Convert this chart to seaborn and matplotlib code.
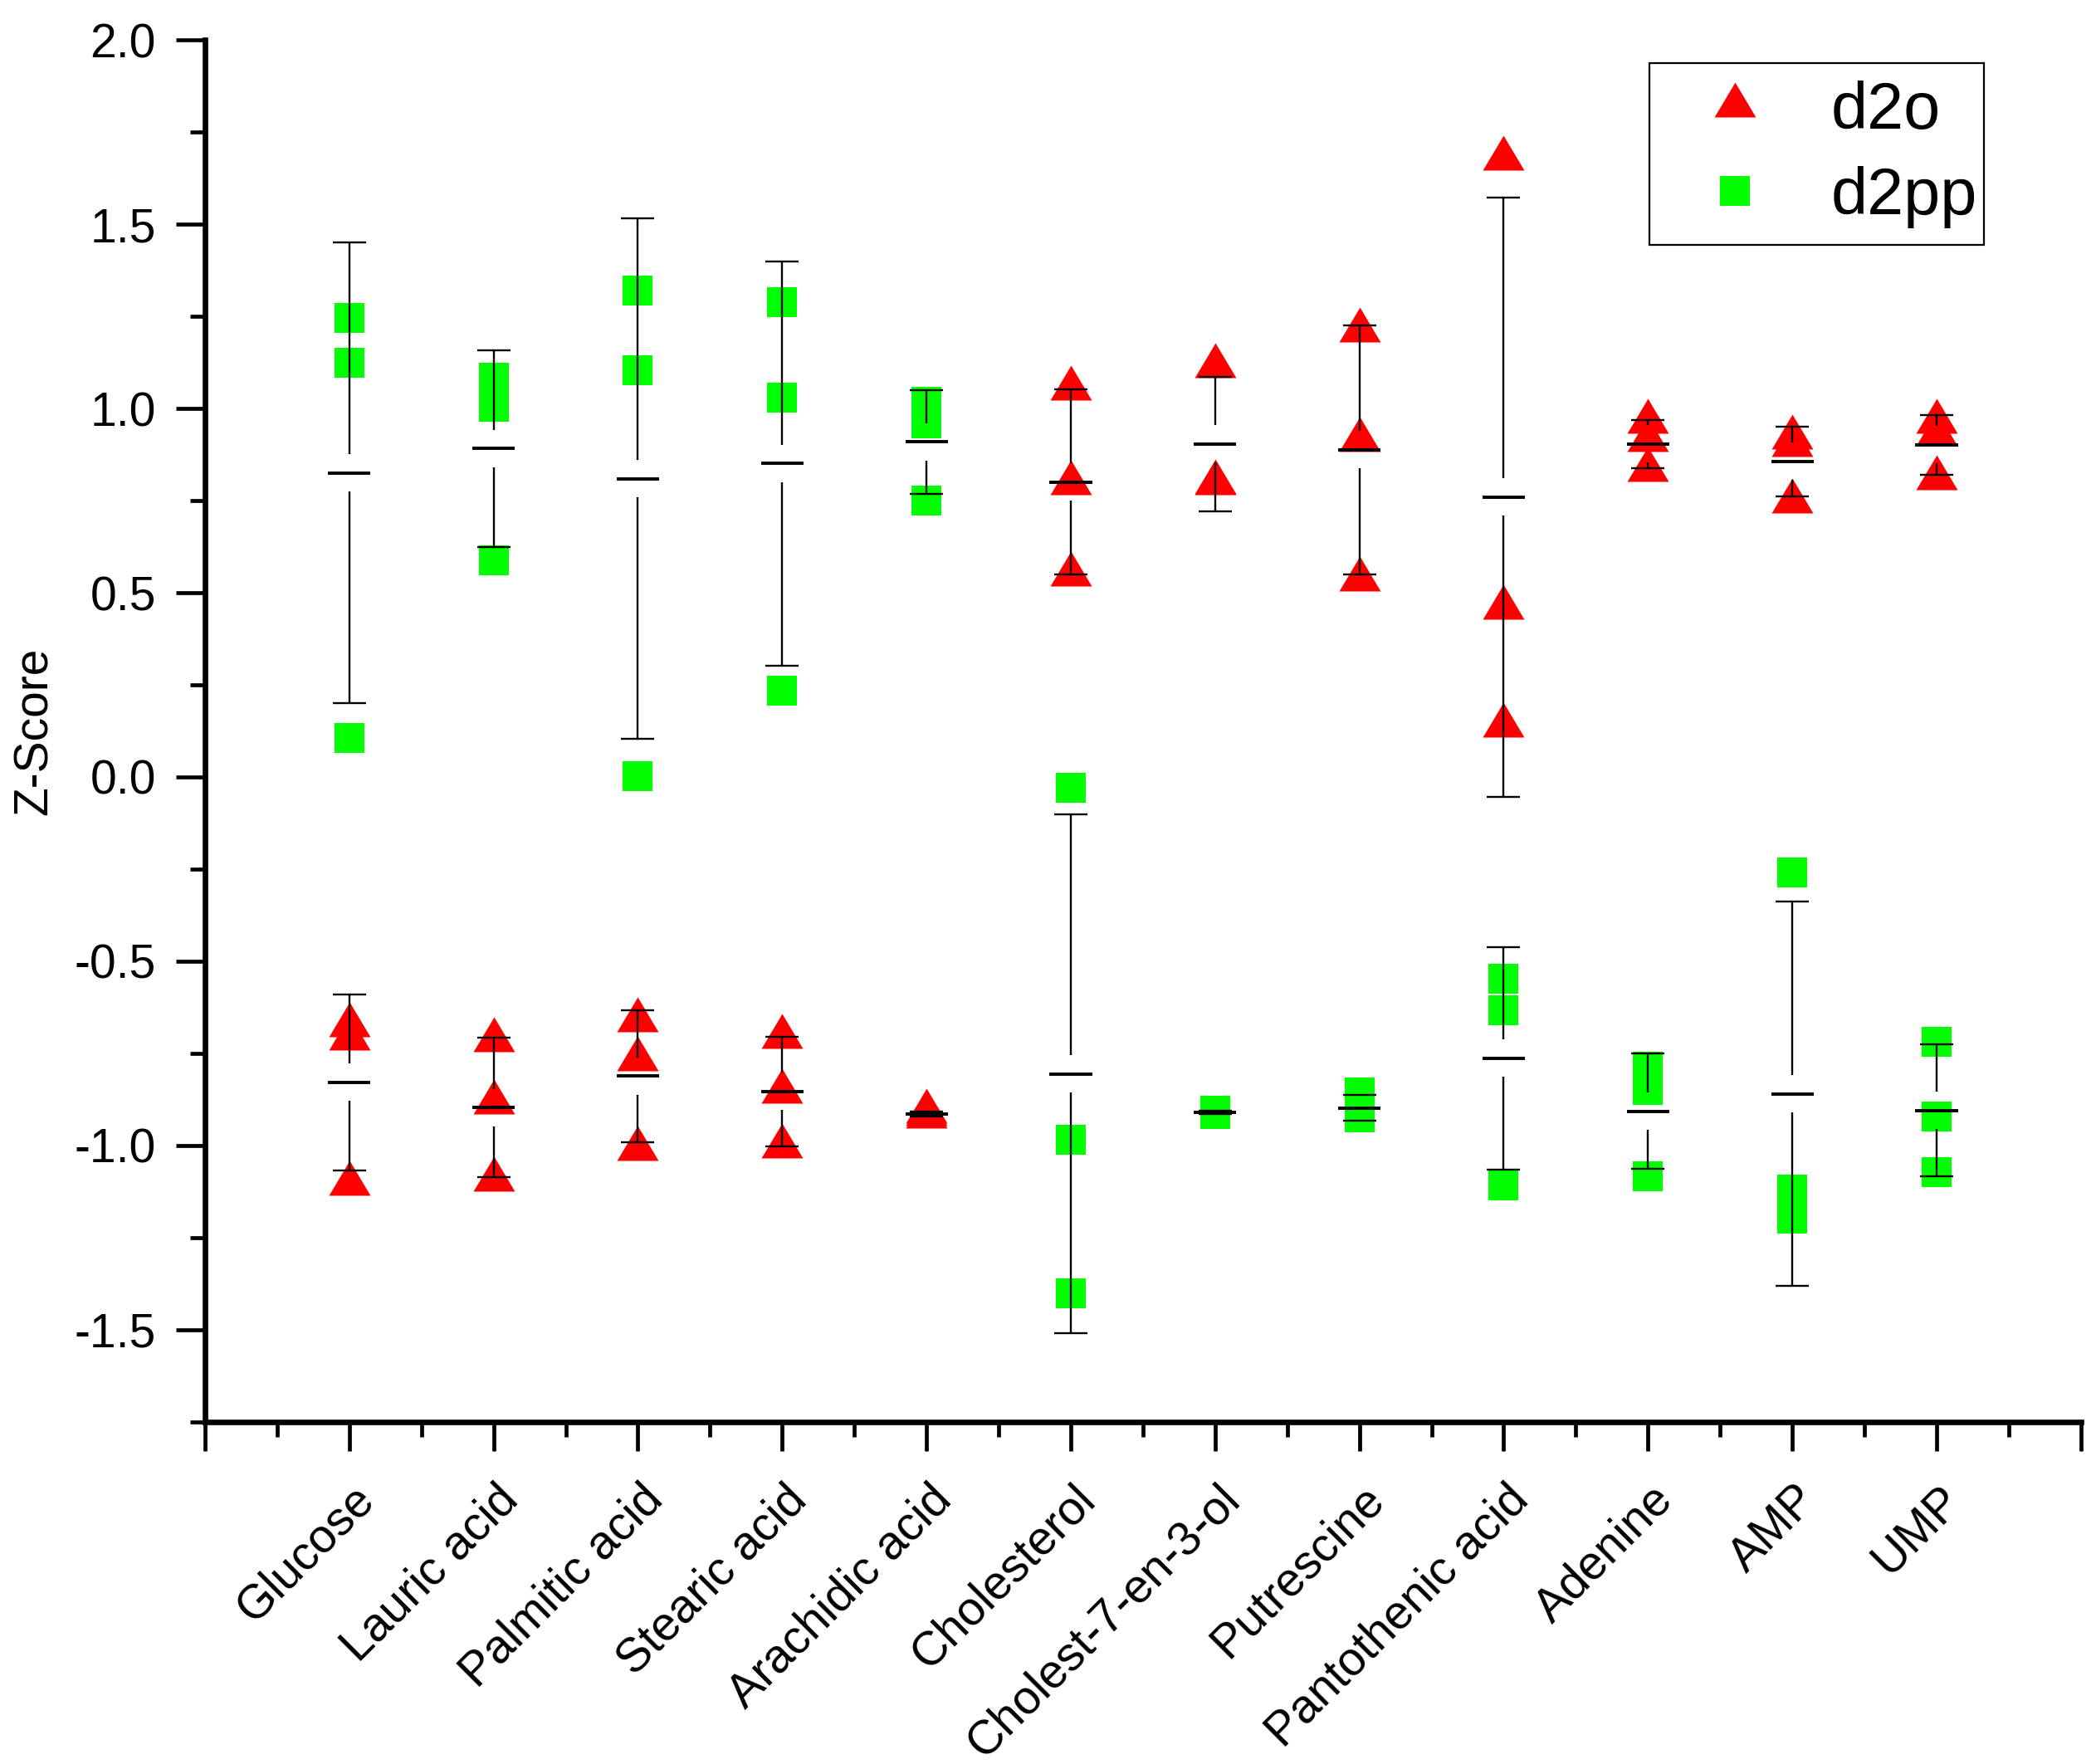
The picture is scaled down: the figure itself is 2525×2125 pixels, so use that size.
"""
Z-scores of metabolites in the d2o and d2pp groups, with mean +/- SD bars.
"""

import numpy as np
import pandas as pd
import matplotlib
matplotlib.use("Agg")
import matplotlib.pyplot as plt
import seaborn as sns
from matplotlib.path import Path
from matplotlib.lines import Line2D
from matplotlib.transforms import ScaledTranslation


# ---------- data ----------
metabolites = ["Glucose", "Lauric acid", "Palmitic acid", "Stearic acid",
               "Arachidic acid", "Cholesterol", "Cholest-7-en-3-ol",
               "Putrescine", "Pantothenic acid", "Adenine", "AMP", "UMP"]

d2o = [
    [-0.673, -0.709, -1.104],
    [-0.714, -0.884, -1.092],
    [-0.660, -0.765, -1.009],
    [-0.704, -0.854, -1.002],
    [-0.908, -0.915, -0.922],
    [1.054, 0.798, 0.550],
    [1.114, 0.799, 0.797],
    [1.212, 0.915, 0.537],
    [1.679, 0.460, 0.139],
    [0.963, 0.914, 0.834],
    [0.921, 0.900, 0.748],
    [0.965, 0.930, 0.810],
]

d2pp = [
    [1.246, 1.124, 0.106],
    [1.083, 1.005, 0.587],
    [1.320, 1.104, 0.003],
    [1.288, 1.029, 0.235],
    [1.018, 0.960, 0.749],
    [-0.029, -0.985, -1.402],
    [-0.905, -0.910, -0.915],
    [-0.857, -0.913, -0.923],
    [-0.548, -0.633, -1.109],
    [-0.787, -0.849, -1.084],
    [-0.260, -1.120, -1.199],
    [-0.718, -0.922, -1.073],
]

y_ticks = [-1.5, -1.0, -0.5, 0.0, 0.5, 1.0, 1.5, 2.0]

RED = "#FF0000"
GREEN = "#00FF00"
FS = 41

sns.set_style("ticks")
plt.rcParams["font.family"] = ["Liberation Sans", "DejaVu Sans"]
plt.rcParams["axes.unicode_minus"] = False
for key in ("text.color", "axes.labelcolor", "xtick.color", "ytick.color"):
    plt.rcParams[key] = "black"


# ---------- long table + stats ----------
rows = []
for group, series in (("d2o", d2o), ("d2pp", d2pp)):
    for name, vals in zip(metabolites, series):
        for v in vals:
            rows.append((name, group, v))
df = pd.DataFrame(rows, columns=["metabolite", "group", "z"])

stats = (df.groupby(["group", "metabolite"], sort=False)["z"]
           .agg(["mean", "std"]).reset_index())
stats["x"] = stats["metabolite"].map({m: i for i, m in enumerate(metabolites)})

# triangle whose centroid sits on the value (Origin style)
tri = Path([(0, 28), (-25, -14), (25, -14), (0, 28)],
           [Path.MOVETO, Path.LINETO, Path.LINETO, Path.CLOSEPOLY])


# ---------- plot ----------
fig = plt.figure(figsize=(25.25, 21.25), dpi=100)
ax = fig.add_axes([0.0978, 0.1939, 0.8950, 0.7835])

sns.stripplot(data=df[df["group"] == "d2o"], x="metabolite", y="z",
              order=metabolites, jitter=False, marker=tri, size=40.3,
              color=RED, linewidth=0, ax=ax, zorder=2)
sns.stripplot(data=df[df["group"] == "d2pp"], x="metabolite", y="z",
              order=metabolites, jitter=False, marker="s", size=26.5,
              color=GREEN, linewidth=0, ax=ax, zorder=2)

gap = 0.0507
x = stats["x"].to_numpy()
mu = stats["mean"].to_numpy()
sd = stats["std"].to_numpy()
ax.hlines(mu, x - 0.147, x + 0.147, color="black", lw=2.8, zorder=4)
ax.hlines(mu + sd, x - 0.115, x + 0.115, color="black", lw=1.7, zorder=4)
ax.hlines(mu - sd, x - 0.115, x + 0.115, color="black", lw=1.7, zorder=4)
show = sd > gap
ax.vlines(x[show], mu[show] + gap, mu[show] + sd[show], color="black", lw=1.7, zorder=4)
ax.vlines(x[show], mu[show] - gap, mu[show] - sd[show], color="black", lw=1.7, zorder=4)

ax.set_xlim(-1, 12)
ax.set_ylim(-1.75, 2.0)
ax.set_xticks(range(-1, 13))
ax.set_xticklabels([""] + metabolites + [""], rotation=45, ha="right",
                   va="baseline", rotation_mode="anchor", fontsize=FS)
ax.set_xticks(np.arange(-0.5, 12, 1), minor=True)
ax.set_yticks(y_ticks)
ax.set_yticklabels([f"{t:.1f}" for t in y_ticks], fontsize=FS)
ax.set_yticks(np.arange(-1.75, 2.0, 0.25), minor=True)
ax.set_xlabel("")
ax.set_ylabel("Z-Score", fontsize=FS)
ax.yaxis.set_label_coords(-0.0788, 0.5)

ax.tick_params(which="major", length=25, width=3.4, color="black", labelcolor="black")
ax.tick_params(which="minor", length=13, width=3.4, color="black")
ax.tick_params(axis="x", which="major", pad=44)
ax.tick_params(axis="y", which="major", pad=17.5)

for side in ("top", "right"):
    ax.spines[side].set_visible(False)
for side in ("left", "bottom"):
    ax.spines[side].set_linewidth(4.8)
    ax.spines[side].set_color("black")

shift = ScaledTranslation(0.32, 0, fig.dpi_scale_trans)
for lbl in ax.get_xticklabels():
    lbl.set_transform(lbl.get_transform() + shift)

handles = [
    Line2D([], [], marker=tri, markersize=40.3, color=RED,
           linestyle="none", markeredgewidth=0),
    Line2D([], [], marker="s", markersize=26.5, color=GREEN,
           linestyle="none", markeredgewidth=0),
]
leg = ax.legend(handles, ["d2o", "d2pp"], loc="upper left",
                bbox_to_anchor=(0.770, 0.0, 0.1781, 0.983), mode="expand",
                borderaxespad=0, fontsize=57, frameon=True, fancybox=False,
                shadow=False, edgecolor="black", framealpha=1,
                borderpad=0.26, handlelength=2.08, handletextpad=0.42,
                labelspacing=0.35)
leg.get_frame().set_linewidth(1.6)

fig.savefig("out.png", dpi=100)
plt.close(fig)
